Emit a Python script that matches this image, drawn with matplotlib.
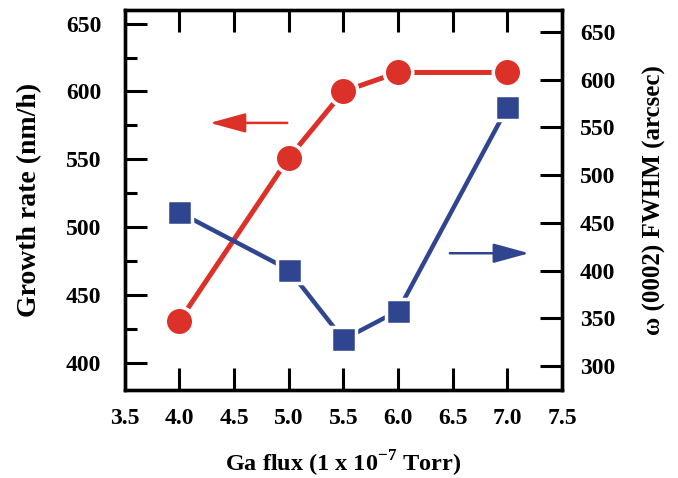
import numpy as np
import matplotlib
matplotlib.use('Agg')
import matplotlib.pyplot as plt
from matplotlib.ticker import MultipleLocator

# data
ga_flux = [4.0, 5.0, 5.5, 6.0, 7.0]
growth_rate = [431, 551, 600, 614, 614]      # nm/h, left axis
fwhm = [461, 401, 328, 358, 571]             # arcsec, right axis

x_ticks = [3.5, 4.0, 4.5, 5.0, 5.5, 6.0, 6.5, 7.0, 7.5]
left_ticks = [400, 450, 500, 550, 600, 650]
right_ticks = [300, 350, 400, 450, 500, 550, 600, 650]

red = '#dc3129'
blue = '#2f4590'

plt.rcParams['font.family'] = 'Liberation Serif'
plt.rcParams['font.weight'] = 'bold'
plt.rcParams['mathtext.fontset'] = 'custom'
plt.rcParams['mathtext.rm'] = 'Liberation Serif:bold'

fig = plt.figure(figsize=(6.78, 4.78), dpi=100)
ax = fig.add_axes([0.184, 0.184, 0.645, 0.795])
ax2 = ax.twinx()

ax.plot(ga_flux, growth_rate, color=red, lw=3.6, marker='o', ms=20.5,
        mfc=red, mec='white', mew=2.5, zorder=3)
ax2.plot(ga_flux, fwhm, color=blue, lw=3.2, marker='s', ms=18,
         mfc=blue, mec='white', mew=2.5, zorder=3)

ax.set_xlim(3.5, 7.5)
ax.set_ylim(380, 660)
ax2.set_ylim(275, 673)
ax.set_xticks(x_ticks)
ax.set_xticklabels(['%.1f' % v for v in x_ticks])
ax.set_yticks(left_ticks)
ax.yaxis.set_minor_locator(MultipleLocator(25))
ax2.set_yticks(right_ticks)

for a in (ax, ax2):
    for s in a.spines.values():
        s.set_linewidth(2.4)

ax.tick_params(axis='x', which='major', direction='in', length=16, width=2.2,
               top=True, labelsize=17, pad=13)
ax.tick_params(axis='y', which='major', direction='in', length=16, width=2.2,
               right=False, labelsize=17, pad=17)
ax.tick_params(axis='y', which='minor', direction='in', length=8.5, width=2.2,
               right=False)
ax2.tick_params(axis='y', which='major', direction='in', length=16, width=2.2,
                labelsize=17, pad=13)

ax.set_xlabel('Ga flux (1 x 10$^{\\mathregular{-7}}$ Torr)', fontsize=17.5,
              fontweight='bold', labelpad=14)
ax.set_ylabel('Growth rate (nm/h)', fontsize=20, fontweight='bold', labelpad=17)
ax2.set_ylabel('\u03c9 (0002) FWHM (arcsec)', fontsize=18, fontweight='bold',
               labelpad=20)

ax.annotate('', xy=(0.188, 0.703), xytext=(0.378, 0.703), xycoords='axes fraction',
            arrowprops=dict(arrowstyle='-|>,head_length=2.2,head_width=0.6',
                            color=red, lw=1.8))
ax.annotate('', xy=(0.931, 0.36), xytext=(0.737, 0.36), xycoords='axes fraction',
            arrowprops=dict(arrowstyle='-|>,head_length=2.2,head_width=0.6',
                            color=blue, lw=1.8))

fig.savefig('out.png', dpi=100)
